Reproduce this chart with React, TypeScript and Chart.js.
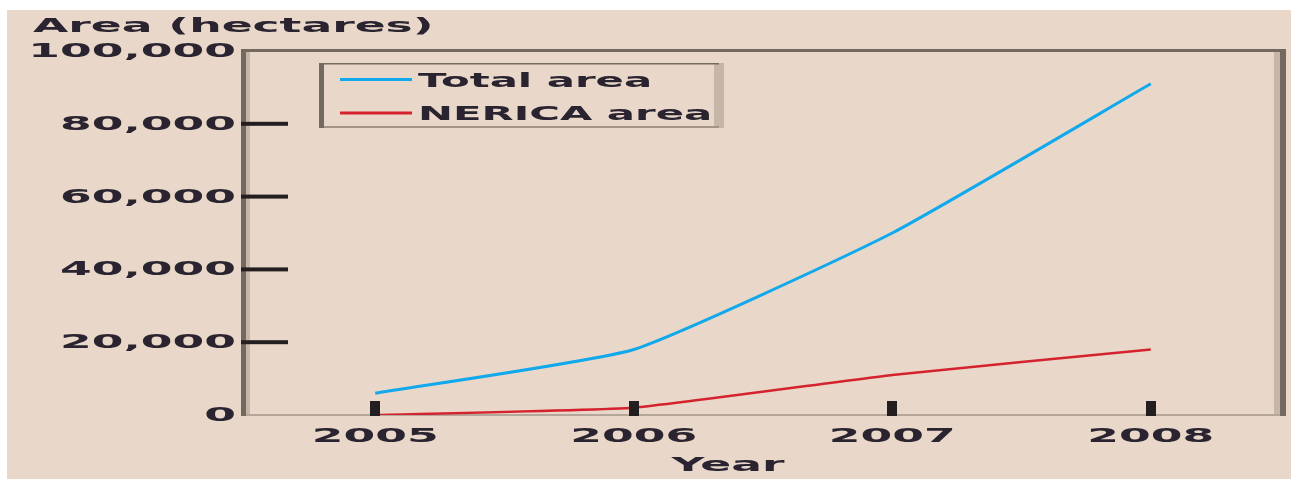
import React, { useEffect, useRef } from "react";
import { Chart, registerables } from "chart.js";

Chart.register(...registerables);

// ---- data ----
const years = ["2005", "2006", "2007", "2008"];
const totalArea = [6000, 18000, 50000, 91000];
const nericaArea = [0, 2000, 11000, 18000];
const yTickValues = [0, 20000, 40000, 60000, 80000, 100000];
const seriesNames = ["Total area", "NERICA area"];
const yTitle = "Area (hectares)";
const xTitle = "Year";

// ---- style ----
const W = 1295;
const H = 479;
const BEIGE = "#e9d8c9";
const FRAME_DARK = "#74695f";
const FRAME_LIGHT = "#c6b6a8";
const AXIS_LINE = "#b4a699";
const TICK = "#231f20";
const TEXT = "#2a2330";
const BLUE = "#12a9ec";
const RED = "#d4232e";
const FONT = 'bold 19px "DejaVu Sans"';
const SX = 2.4;
const SX_LEGEND = 2.2;

function drawText(
  ctx: CanvasRenderingContext2D,
  text: string,
  x: number,
  y: number,
  align: CanvasTextAlign,
  sx: number
) {
  ctx.save();
  ctx.font = FONT;
  ctx.fillStyle = TEXT;
  ctx.textBaseline = "alphabetic";
  ctx.textAlign = align;
  ctx.translate(x, y);
  ctx.scale(sx, 1);
  ctx.fillText(text, 0, 0);
  ctx.restore();
}

const decorPlugin = {
  id: "decor",
  beforeDraw(chart: any) {
    const ctx: CanvasRenderingContext2D = chart.ctx;
    ctx.save();
    ctx.fillStyle = "#ffffff";
    ctx.fillRect(0, 0, W, H);
    ctx.fillStyle = BEIGE;
    ctx.fillRect(7, 10, 1284, H - 10);
    ctx.restore();
  },
  beforeDatasetsDraw(chart: any) {
    const ctx: CanvasRenderingContext2D = chart.ctx;
    const { left, right, top, bottom } = chart.chartArea;
    const y = chart.scales.y;
    ctx.save();
    ctx.fillStyle = FRAME_LIGHT;
    ctx.fillRect(left, top, 4, bottom - top);
    ctx.fillRect(right - 6, top, 6, bottom - top);
    ctx.fillStyle = FRAME_DARK;
    ctx.fillRect(left - 5, top - 2, 5, bottom - top + 3);
    ctx.fillRect(left - 5, top - 2, right - left + 11, 3);
    ctx.fillRect(right, top - 2, 6, bottom - top + 3);
    ctx.fillStyle = AXIS_LINE;
    ctx.fillRect(left, bottom - 1, right - left, 2);
    ctx.fillStyle = TICK;
    yTickValues.forEach((v) => {
      if (v === 0 || v === yTickValues[yTickValues.length - 1]) return;
      const py = y.getPixelForValue(v);
      ctx.fillRect(left - 5, py - 2, 47, 4);
    });
    ctx.restore();
  },
  afterDatasetsDraw(chart: any) {
    const ctx: CanvasRenderingContext2D = chart.ctx;
    const { left, bottom } = chart.chartArea;
    const x = chart.scales.x;
    const y = chart.scales.y;
    ctx.save();
    ctx.fillStyle = TICK;
    years.forEach((_, i) => {
      const px = x.getPixelForValue(i);
      ctx.fillRect(Math.round(px) - 5, bottom - 14, 10, 15);
    });
    ctx.restore();

    yTickValues.forEach((v) => {
      const py = y.getPixelForValue(v);
      drawText(ctx, v.toLocaleString("en-US"), left - 10, py + 6, "right", SX);
    });
    years.forEach((lab, i) => {
      const px = x.getPixelForValue(i);
      drawText(ctx, lab, px, bottom + 27, "center", SX);
    });
    drawText(ctx, yTitle, 33, 32, "left", SX);
    drawText(ctx, xTitle, 728, 471, "center", SX);

    const bx = 319, by = 63, bw = 405, bh = 65;
    ctx.save();
    ctx.fillStyle = FRAME_LIGHT;
    ctx.fillRect(bx + bw - 10, by, 10, bh);
    ctx.fillStyle = "#a39588";
    ctx.fillRect(bx, by + bh - 2, bw - 5, 2);
    ctx.fillStyle = FRAME_DARK;
    ctx.fillRect(bx, by, 5, bh);
    ctx.fillRect(bx, by, bw - 5, 1.5);
    const rows = [79.5, 113];
    chart.data.datasets.forEach((ds: any, i: number) => {
      ctx.strokeStyle = ds.borderColor;
      ctx.lineWidth = 3;
      ctx.beginPath();
      ctx.moveTo(340, rows[i]);
      ctx.lineTo(412, rows[i]);
      ctx.stroke();
    });
    ctx.restore();
    chart.data.datasets.forEach((ds: any, i: number) => {
      drawText(ctx, ds.label, 418, rows[i] + 7, "left", SX_LEGEND);
    });
  },
};

export default function App() {
  const ref = useRef<HTMLCanvasElement | null>(null);
  useEffect(() => {
    if (!ref.current) return;
    const chart = new Chart(ref.current, {
      type: "line",
      data: {
        labels: years,
        datasets: [
          {
            label: seriesNames[0],
            data: totalArea,
            borderColor: BLUE,
            borderWidth: 3,
            tension: 0.15,
            pointRadius: 0,
            fill: false,
          },
          {
            label: seriesNames[1],
            data: nericaArea,
            borderColor: RED,
            borderWidth: 2.5,
            tension: 0.12,
            pointRadius: 0,
            fill: false,
          },
        ],
      },
      options: {
        responsive: false,
        animation: false,
        devicePixelRatio: 1,
        layout: { padding: { left: 246, right: 15, top: 51, bottom: 64 } },
        plugins: {
          legend: { display: false },
          tooltip: { enabled: false },
          title: { display: false },
        },
        scales: {
          x: {
            type: "category",
            offset: true,
            grid: { display: false, drawTicks: false },
            border: { display: false },
            ticks: { display: false },
            afterFit: (s: any) => {
              s.height = 0;
            },
          },
          y: {
            min: 0,
            max: 100000,
            grid: { display: false, drawTicks: false },
            border: { display: false },
            ticks: { display: false },
            afterFit: (s: any) => {
              s.width = 0;
            },
          },
        },
      },
      plugins: [decorPlugin],
    });
    return () => chart.destroy();
  }, []);
  return (
    <div style={{ position: "fixed", left: 0, top: 0, width: W, height: H, background: "#fff" }}>
      <canvas ref={ref} width={W} height={H} style={{ display: "block", width: W, height: H }} />
    </div>
  );
}
